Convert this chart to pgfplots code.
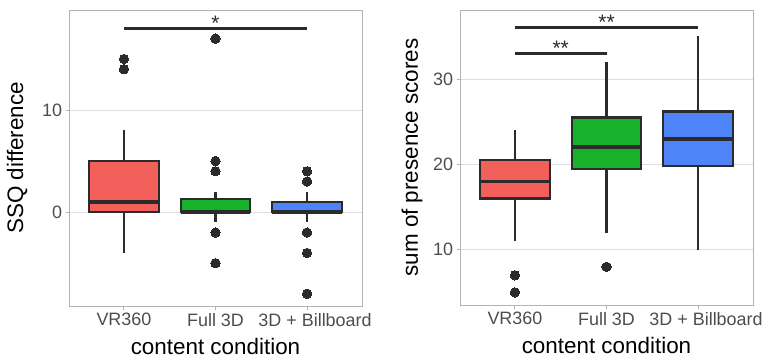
\documentclass[border=0pt]{standalone}
\usepackage{pgfplots}
\pgfplotsset{compat=1.18}
\usepgfplotslibrary{statistics}
\usepackage{fontspec}
\setmainfont{Liberation Sans}
\definecolor{cred}{HTML}{F35F5B}
\definecolor{cgreen}{HTML}{17B12B}
\definecolor{cblue}{HTML}{4E84F8}
\definecolor{gline}{HTML}{2B2B2B}
\definecolor{gborder}{HTML}{B3B3B3}
\definecolor{ggrid}{HTML}{DEDEDE}
\definecolor{gtick}{HTML}{4D4D4D}
\tikzset{sigstar/.style={pos=0.5, anchor=base, yshift=-2bp, text=gline, font=\fontsize{21}{22}\selectfont}}
\pgfplotsset{
 mystyle/.style={
  scale only axis, width=293bp,
  xmin=0.4, xmax=3.6,
  xtick={1,2,3}, xticklabels={VR360, Full 3D, \hspace*{16bp}3D + Billboard},
  axis line style={gborder, line width=0.9bp},
  tick style={gborder, line width=0.9bp},
  major tick length=3.5bp, tick align=outside,
  xtick pos=left, ytick pos=left,
  ymajorgrids, grid style={ggrid, line width=0.8bp},
  ticklabel style={font=\fontsize{18}{20}\selectfont, text=gtick},
  /pgf/number format/assume math mode=true,
  label style={font=\fontsize{22.5}{26}\selectfont, text=black},
  xlabel={content condition},
  xlabel style={at={([yshift=-40bp]axis description cs:0.5,0)}, anchor=center},
  boxplot/draw direction=y,
  boxplot/box extend=0.76,
  boxplot/whisker extend=0,
  boxplot/every median/.style={line width=3.8bp},
  boxplot/every whisker/.style={line width=2.3bp},
  boxplot/every box/.style={line width=2.2bp},
 },
 bx/.style={solid, draw=gline, line width=2.2bp, fill=#1, mark=*, mark size=4.7bp,
   mark options={fill=gline, draw=gline, line width=0bp}},
 sig/.style={gline, line width=2.7bp, mark=none},
}
\begin{document}
\begin{tikzpicture}
% left panel
\begin{axis}[mystyle, at={(69bp,53bp)}, anchor=south west, height=296bp,
  ymin=-9.2, ymax=19.8, ytick={0,10},
  ylabel={SSQ difference},
  ylabel style={at={([xshift=-52bp]axis description cs:0,0.5)}, anchor=center}]
\addplot[bx=cred, boxplot prepared={draw position=1, lower whisker=-4, lower quartile=0, median=1, upper quartile=5, upper whisker=8}]
  coordinates {(1,14) (1,15)};
\addplot[bx=cgreen, boxplot prepared={draw position=2, lower whisker=-1, lower quartile=0, median=0, upper quartile=1.25, upper whisker=2}]
  coordinates {(2,17) (2,5) (2,4) (2,-2) (2,-5)};
\addplot[bx=cblue, boxplot prepared={draw position=3, lower whisker=-1, lower quartile=0, median=0, upper quartile=1, upper whisker=2}]
  coordinates {(3,4) (3,3) (3,-2) (3,-4) (3,-8)};
\addplot[sig] coordinates {(1,18) (3,18)} node[sigstar] {*};
\end{axis}
% right panel
\begin{axis}[mystyle, at={(460bp,54bp)}, anchor=south west, height=295bp,
  ymin=3.52, ymax=38.1, ytick={10,20,30},
  ylabel={sum of presence scores},
  ylabel style={at={([xshift=-48bp]axis description cs:0,0.5)}, anchor=center}]
\addplot[bx=cred, boxplot prepared={draw position=1, lower whisker=11, lower quartile=16, median=18, upper quartile=20.5, upper whisker=24}]
  coordinates {(1,7) (1,5)};
\addplot[bx=cgreen, boxplot prepared={draw position=2, lower whisker=12, lower quartile=19.5, median=22, upper quartile=25.5, upper whisker=32}]
  coordinates {(2,8)};
\addplot[bx=cblue, boxplot prepared={draw position=3, lower whisker=10, lower quartile=19.8, median=23, upper quartile=26.2, upper whisker=35}]
  coordinates {};
\addplot[sig] coordinates {(1,36.05) (3,36.05)} node[sigstar] {**};
\addplot[sig] coordinates {(1,33) (2,33)} node[sigstar] {**};
\end{axis}
\pgfresetboundingbox
\path[use as bounding box] (0,0) rectangle (766bp,359bp);
\end{tikzpicture}
\end{document}
